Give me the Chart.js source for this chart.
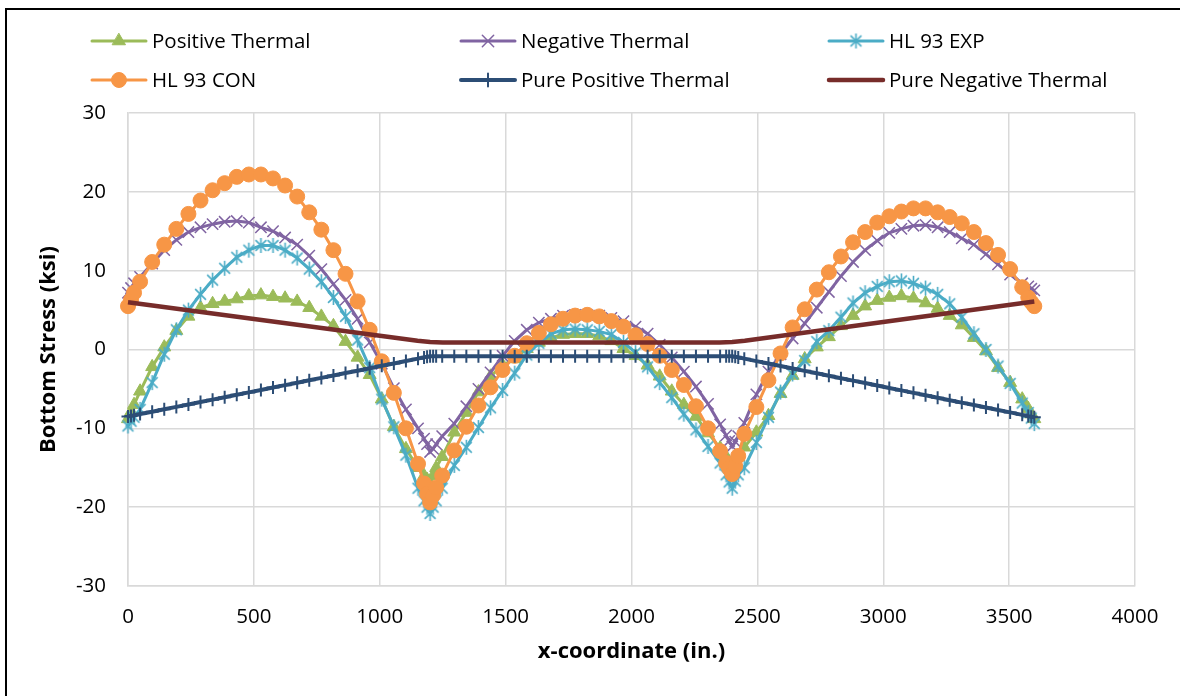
<!DOCTYPE html>
<html>
<head>
<meta charset="utf-8">
<script src="https://cdn.jsdelivr.net/npm/chart.js"></script>
<style>
  html, body { margin: 0; padding: 0; background: #fff; overflow: hidden; }
  #wrap { position: relative; width: 1180px; height: 696px; overflow: hidden; }
  #frame { position: absolute; left: 5px; top: 8px; width: 1300px; height: 800px; border: 2px solid #000; }
  #chart { position: absolute; left: 0; top: 0; }
</style>
</head>
<body>
<div id="wrap">
  <div id="frame"></div>
  <canvas id="chart" width="1180" height="696"></canvas>
</div>
<script>
// x-coordinate (in.) of the stress points, three 1200 in. spans
const xCoord = [
  0, 12, 24, 48, 96, 144, 192, 240, 288, 336, 384, 432, 480, 528, 576, 624, 672, 720, 768, 816, 864, 912, 960, 1008, 1056, 1104, 1152, 1176, 1188,
  1200, 1212, 1224, 1248, 1296, 1344, 1392, 1440, 1488, 1536, 1584, 1632, 1680, 1728, 1776, 1824, 1872, 1920, 1968, 2016, 2064, 2112, 2160, 2208, 2256, 2304, 2352, 2376, 2388,
  2400, 2412, 2424, 2448, 2496, 2544, 2592, 2640, 2688, 2736, 2784, 2832, 2880, 2928, 2976, 3024, 3072, 3120, 3168, 3216, 3264, 3312, 3360, 3408, 3456, 3504, 3552, 3576, 3588, 3600
];

const positiveThermal = [
  -8.8, -7.9, -7.0, -5.3, -2.2, 0.3, 2.4, 4.2, 5.3, 5.8, 6.1, 6.4, 6.8, 6.9, 6.7, 6.5, 6.1, 5.3, 4.2, 3.0, 1.0, -1.0, -3.2, -6.3, -9.8, -12.6, -15.0, -16.0, -16.5,
  -17.0, -16.0, -15.0, -13.6, -10.5, -8.0, -5.4, -3.4, -2.0, -1.2, 0.1, 0.9, 1.5, 1.9, 2.0, 2.0, 1.7, 1.1, 0.1, -0.8, -2.0, -3.4, -5.3, -7.0, -8.5, -10.6, -12.5, -13.6, -14.3,
  -15.0, -14.3, -13.6, -12.4, -10.5, -8.4, -5.6, -3.3, -1.2, 0.3, 1.6, 3.0, 4.3, 5.5, 6.2, 6.6, 6.8, 6.5, 5.9, 5.2, 4.3, 3.1, 1.5, -0.2, -2.3, -4.2, -6.3, -7.5, -8.2, -8.8
];

const negativeThermal = [
  7.2, 7.8, 8.4, 9.2, 10.9, 12.6, 13.9, 14.9, 15.5, 15.9, 16.2, 16.3, 16.1, 15.5, 15.0, 14.2, 13.3, 11.9, 10.2, 8.3, 6.3, 3.9, 0.9, -1.8, -4.9, -7.6, -10.0, -11.3, -12.0,
  -13.0, -12.6, -12.0, -11.0, -9.4, -7.2, -5.0, -2.9, -0.8, 1.1, 2.5, 3.4, 3.9, 4.3, 4.4, 4.4, 4.3, 4.0, 3.6, 2.9, 2.0, 0.6, -1.0, -2.8, -4.7, -6.9, -9.5, -10.9, -11.6,
  -12.3, -11.7, -11.0, -9.3, -5.7, -2.8, -0.6, 1.4, 3.3, 5.3, 7.3, 9.3, 11.1, 12.6, 13.8, 14.8, 15.3, 15.7, 15.8, 15.5, 14.9, 14.1, 13.3, 12.1, 10.8, 9.5, 8.4, 8.0, 7.7, 7.5
];

const hl93Exp = [
  -9.7, -9.1, -8.6, -7.6, -4.2, -0.6, 2.5, 5.0, 7.0, 8.8, 10.3, 11.7, 12.6, 13.2, 13.2, 12.6, 11.6, 10.2, 8.6, 6.6, 4.2, 1.2, -2.3, -6.3, -9.8, -13.4, -17.6, -19.2, -20.0,
  -20.8, -20.0, -19.2, -17.6, -14.7, -12.4, -9.9, -7.4, -5.2, -3.0, -0.7, 0.8, 2.0, 2.5, 2.6, 2.5, 2.3, 1.9, 0.9, -0.4, -2.2, -4.2, -6.1, -8.2, -10.2, -12.3, -14.4, -15.9, -16.8,
  -17.6, -16.7, -15.9, -15.0, -11.8, -8.6, -5.4, -3.1, -1.4, 1.0, 2.4, 4.1, 5.9, 7.2, 8.0, 8.6, 8.7, 8.4, 7.8, 7.0, 5.8, 4.1, 2.0, 0.0, -2.1, -4.3, -6.8, -8.0, -8.7, -9.4
];

const hl93Con = [
  5.5, 6.3, 7.2, 8.6, 11.1, 13.3, 15.3, 17.2, 18.9, 20.2, 21.1, 21.9, 22.2, 22.2, 21.7, 20.8, 19.4, 17.4, 15.2, 12.6, 9.6, 6.1, 2.5, -1.5, -5.5, -10.0, -14.5, -17.0, -18.3,
  -19.4, -18.5, -17.5, -16.0, -12.8, -9.8, -7.1, -4.8, -2.6, -0.8, 0.8, 2.1, 3.2, 3.9, 4.3, 4.4, 4.2, 3.6, 2.9, 1.8, 0.7, -0.8, -2.6, -4.5, -7.2, -10.0, -12.9, -14.4, -15.1,
  -15.8, -14.8, -13.5, -10.7, -7.3, -3.9, -0.5, 2.8, 5.1, 7.6, 9.8, 11.8, 13.6, 14.9, 16.1, 16.9, 17.5, 17.9, 17.9, 17.4, 16.8, 16.0, 14.9, 13.5, 12.0, 10.2, 7.9, 6.6, 6.0, 5.5
];

const purePositive = [
  -8.5, -8.42, -8.35, -8.19, -7.89, -7.58, -7.28, -6.97, -6.66, -6.36, -6.05, -5.75, -5.44, -5.13, -4.83, -4.52, -4.22, -3.91, -3.6, -3.3, -2.99, -2.69, -2.38, -2.07, -1.77, -1.46, -1.16, -1.0, -0.93,
  -0.85, -0.85, -0.85, -0.85, -0.85, -0.85, -0.85, -0.85, -0.85, -0.85, -0.85, -0.85, -0.85, -0.85, -0.85, -0.85, -0.85, -0.85, -0.85, -0.85, -0.85, -0.85, -0.85, -0.85, -0.85, -0.85, -0.85, -0.85, -0.85,
  -0.85, -0.93, -1.0, -1.16, -1.47, -1.78, -2.09, -2.4, -2.71, -3.02, -3.33, -3.64, -3.95, -4.26, -4.57, -4.88, -5.19, -5.5, -5.81, -6.12, -6.43, -6.74, -7.05, -7.36, -7.67, -7.98, -8.29, -8.45, -8.52, -8.6
];

// pure negative thermal has no markers, only the break points
const pureNegX = [0, 1150, 1200, 1250, 2350, 2400, 2450, 3600];
const pureNegative = [6.0, 1.1, 0.95, 0.9, 0.9, 0.95, 1.1, 6.1];

const FONT = "'Open Sans', Carlito, 'Liberation Sans', sans-serif";

function toPoints(xs, ys) {
  return xs.map((x, i) => ({ x: x, y: ys[i] }));
}

// Excel style asterisk marker (x with a vertical bar)
function makeAsterisk(color, size, lw) {
  const c = document.createElement('canvas');
  c.width = size;
  c.height = size;
  const g = c.getContext('2d');
  g.strokeStyle = color;
  g.lineWidth = lw;
  const m = size / 2;
  const r = size / 2 - 1;
  const d = r * 0.72;
  g.beginPath();
  g.moveTo(m, m - r); g.lineTo(m, m + r);
  g.moveTo(m - d, m - d); g.lineTo(m + d, m + d);
  g.moveTo(m + d, m - d); g.lineTo(m - d, m + d);
  g.stroke();
  return c;
}

const asterisk = makeAsterisk('#4BACC6', 17, 1.6);

function series(label, data, color, width, style, radius, pbw, order) {
  return {
    label: label,
    data: data,
    showLine: true,
    borderColor: color,
    backgroundColor: color,
    borderWidth: width,
    pointStyle: style,
    pointRadius: radius,
    pointHoverRadius: radius,
    pointBackgroundColor: color,
    pointBorderColor: color,
    pointBorderWidth: pbw,
    tension: 0,
    clip: false,
    order: order,
  };
}

const datasets = [
  series('Positive Thermal', toPoints(xCoord, positiveThermal), '#9BBB59', 3, 'triangle', 7.5, 1, 6),
  series('Negative Thermal', toPoints(xCoord, negativeThermal), '#8064A2', 3, 'crossRot', 8, 1.5, 5),
  series('HL 93 EXP', toPoints(xCoord, hl93Exp), '#4BACC6', 3, asterisk, 8.5, 1.5, 4),
  series('HL 93 CON', toPoints(xCoord, hl93Con), '#F79646', 3, 'circle', 7.5, 1, 3),
  series('Pure Positive Thermal', toPoints(xCoord, purePositive), '#2C4D75', 4, 'cross', 6.5, 2, 2),
  series('Pure Negative Thermal', toPoints(pureNegX, pureNegative), '#772C2A', 4.5, 'circle', 0, 0, 1),
];

// legend laid out in fixed columns like the spreadsheet legend
const legendCols = [92, 461, 829];
const legendRows = [41, 80];

const gridLegend = {
  id: 'gridLegend',
  afterDraw(chart) {
    const ctx = chart.ctx;
    chart.data.datasets.forEach((ds, i) => {
      const x0 = legendCols[i % 3];
      const y = legendRows[Math.floor(i / 3)];
      ctx.save();
      ctx.strokeStyle = ds.borderColor;
      ctx.lineWidth = ds.borderWidth;
      ctx.lineCap = 'round';
      ctx.beginPath();
      ctx.moveTo(x0, y);
      ctx.lineTo(x0 + 54, y);
      ctx.stroke();
      if (ds.pointRadius > 0) {
        ctx.fillStyle = ds.pointBackgroundColor;
        ctx.strokeStyle = ds.pointBorderColor;
        ctx.lineWidth = ds.pointBorderWidth;
        Chart.helpers.drawPoint(ctx, {
          pointStyle: ds.pointStyle,
          radius: ds.pointRadius,
          borderWidth: ds.pointBorderWidth,
          rotation: 0,
        }, x0 + 27, y);
      }
      ctx.fillStyle = '#000';
      ctx.font = '20.5px ' + FONT;
      ctx.textBaseline = 'middle';
      ctx.textAlign = 'left';
      ctx.fillText(ds.label, x0 + 60, y + 1);
      ctx.restore();
    });
  },
};

Chart.defaults.font.family = FONT;
Chart.defaults.font.size = 20.5;
Chart.defaults.color = '#000';

new Chart(document.getElementById('chart'), {
  type: 'scatter',
  data: { datasets: datasets },
  options: {
    responsive: false,
    animation: false,
    devicePixelRatio: 1,
    layout: { padding: { left: 0, right: 45, top: 113, bottom: 0 } },
    plugins: {
      legend: { display: false },
      tooltip: { enabled: false },
    },
    scales: {
      x: {
        type: 'linear',
        min: 0,
        max: 4000,
        ticks: {
          stepSize: 500,
          padding: 19,
          color: '#000',
          font: { size: 20.5 },
          callback: (v) => String(v),
        },
        grid: { color: '#D9D9D9', lineWidth: 1.5, drawTicks: false },
        border: { color: '#D9D9D9', width: 1.5 },
        title: {
          display: true,
          text: 'x-coordinate (in.)',
          color: '#000',
          font: { size: 22, weight: 'bold' },
          padding: { top: 0, bottom: 31 },
        },
        afterFit(scale) { scale.height = 110; },
      },
      y: {
        type: 'linear',
        min: -30,
        max: 30,
        ticks: {
          stepSize: 10,
          padding: 22,
          color: '#000',
          font: { size: 20.5 },
          callback: (v) => String(v),
        },
        grid: { color: '#D9D9D9', lineWidth: 1.5, drawTicks: false },
        border: { color: '#D9D9D9', width: 1.5 },
        title: {
          display: true,
          text: 'Bottom Stress (ksi)',
          color: '#000',
          font: { size: 22, weight: 'bold' },
          padding: { top: 36, bottom: 0 },
        },
        afterFit(scale) { scale.width = 128; },
      },
    },
  },
  plugins: [gridLegend],
});
</script>
</body>
</html>
